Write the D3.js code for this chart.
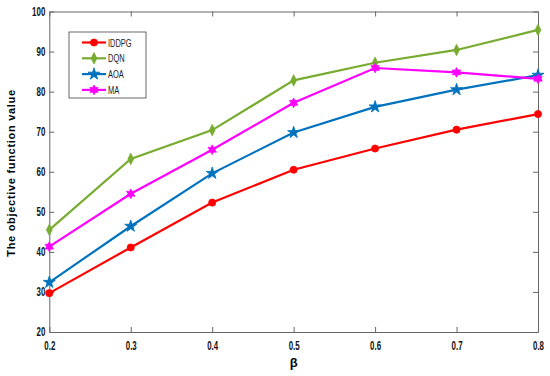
<!DOCTYPE html>
<html>
<head>
<meta charset="utf-8">
<script src="https://cdn.jsdelivr.net/npm/d3@7"></script>
<style>
  body { margin: 0; background: #fff; }
  text { font-family: "Liberation Sans", Arial, sans-serif; }
</style>
</head>
<body>
<script>
var svgWidth = 550;
var svgHeight = 376;

// values
var betas = [0.2, 0.3, 0.4, 0.5, 0.6, 0.7, 0.8];
var iddpg = [29.7, 41.1, 52.3, 60.5, 65.8, 70.5, 74.4];
var dqn = [45.5, 63.2, 70.4, 82.8, 87.2, 90.4, 95.4];
var aoa = [32.4, 46.4, 59.6, 69.8, 76.2, 80.5, 84.1];
var ma = [41.3, 54.5, 65.5, 77.2, 85.9, 84.8, 83.2];
var xTicks = [0.2, 0.3, 0.4, 0.5, 0.6, 0.7, 0.8];
var yTicks = [20, 30, 40, 50, 60, 70, 80, 90, 100];

var margin = { top: 11.5, right: 12, bottom: 44, left: 49.3 };
var width = svgWidth - margin.left - margin.right;
var height = svgHeight - margin.top - margin.bottom;

var svg = d3.select("body")
  .append("svg")
  .attr("width", svgWidth)
  .attr("height", svgHeight);

var chartGroup = svg.append("g")
  .attr("transform", `translate(${margin.left}, ${margin.top})`);

var xScale = d3.scaleLinear().domain([0.2, 0.8]).range([0, width]);
var yScale = d3.scaleLinear().domain([20, 100]).range([height, 0]);

// hexagram used for the MA marker
var hexagram = {
  draw: function(context, size) {
    var r = Math.sqrt(size) * 0.75, ri = r * 0.55;
    for (var i = 0; i < 12; i++) {
      var a = -Math.PI / 2 + i * Math.PI / 6;
      var rr = i % 2 === 0 ? r : ri;
      if (i === 0) context.moveTo(rr * Math.cos(a), rr * Math.sin(a));
      else context.lineTo(rr * Math.cos(a), rr * Math.sin(a));
    }
    context.closePath();
  }
};

// tall thin diamond like matlab's 'd' marker
var tallDiamond = {
  draw: function(context, size) {
    var h = Math.sqrt(size) * 0.85, w = h * 0.5;
    context.moveTo(0, -h);
    context.lineTo(w, 0);
    context.lineTo(0, h);
    context.lineTo(-w, 0);
    context.closePath();
  }
};

var series = [
  { name: "IDDPG", values: iddpg, color: "#ff0000", symbol: d3.symbolCircle, size: 40 },
  { name: "DQN", values: dqn, color: "#77ac30", symbol: tallDiamond, size: 45 },
  { name: "AOA", values: aoa, color: "#0072bd", symbol: d3.symbolStar, size: 45 },
  { name: "MA", values: ma, color: "#ff00ff", symbol: hexagram, size: 42 }
];

// axes (ticks inside, mirrored)
var bottomAxis = d3.axisBottom(xScale).tickValues(xTicks).tickSizeInner(-5).tickSizeOuter(0)
  .tickFormat(d3.format(".1f")).tickPadding(9);
var leftAxis = d3.axisLeft(yScale).tickValues(yTicks).tickSizeInner(-5).tickSizeOuter(0).tickPadding(0);

var xAxis = chartGroup.append("g")
  .attr("transform", `translate(0, ${height})`)
  .call(bottomAxis);
var yAxis = chartGroup.append("g").call(leftAxis);

chartGroup.append("g")
  .call(d3.axisTop(xScale).tickValues(xTicks).tickSizeInner(-5).tickSizeOuter(0).tickFormat(""));
chartGroup.append("g")
  .attr("transform", `translate(${width}, 0)`)
  .call(d3.axisRight(yScale).tickValues(yTicks).tickSizeInner(-5).tickSizeOuter(0).tickFormat(""));

chartGroup.selectAll(".domain").attr("stroke", "#666").attr("stroke-width", 1);
chartGroup.selectAll(".tick line").attr("stroke", "#666");
chartGroup.selectAll(".tick text")
  .attr("font-family", "'Liberation Sans', Arial, sans-serif")
  .attr("font-size", 12)
  .attr("font-weight", "bold")
  .attr("fill", "#111");

// squeeze tick labels so they look condensed
xAxis.selectAll(".tick text").attr("transform", "scale(0.66,1)");
yAxis.selectAll(".tick text").attr("x", 0).attr("transform", "translate(-4,0) scale(0.66,1)");

// lines and markers
var line = d3.line()
  .x((d, i) => xScale(betas[i]))
  .y(d => yScale(d));

series.forEach(function(s) {
  chartGroup.append("path")
    .datum(s.values)
    .attr("d", line)
    .attr("fill", "none")
    .attr("stroke", s.color)
    .attr("stroke-width", 2.2);

  chartGroup.selectAll(null)
    .data(s.values)
    .enter()
    .append("path")
    .attr("d", d3.symbol().type(s.symbol).size(s.size))
    .attr("transform", (d, i) => `translate(${xScale(betas[i])}, ${yScale(d)})`)
    .attr("fill", s.color)
    .attr("stroke", s.color)
    .attr("stroke-width", 0.8);
});

// legend
var legend = svg.append("g").attr("transform", "translate(69, 32)");
legend.append("rect")
  .attr("width", 77)
  .attr("height", 66)
  .attr("fill", "#fff")
  .attr("stroke", "#444")
  .attr("stroke-width", 0.8);

series.forEach(function(s, i) {
  var y = 10.5 + i * 15.8;
  legend.append("line")
    .attr("x1", 13).attr("x2", 37)
    .attr("y1", y).attr("y2", y)
    .attr("stroke", s.color)
    .attr("stroke-width", 2.2);
  legend.append("path")
    .attr("d", d3.symbol().type(s.symbol).size(s.size))
    .attr("transform", `translate(25, ${y})`)
    .attr("fill", s.color)
    .attr("stroke", s.color)
    .attr("stroke-width", 0.8);
  legend.append("text")
    .attr("transform", `translate(39, ${y + 4}) scale(0.68,1)`)
    .style("font-size", "11px")
    .attr("fill", "#222")
    .text(s.name);
});

// axis labels
svg.append("text")
  .attr("x", margin.left + width / 2)
  .attr("y", 367)
  .attr("text-anchor", "middle")
  .style("font-size", "13px")
  .style("font-weight", "bold")
  .text("β");

svg.append("text")
  .attr("transform", `translate(15, 173) rotate(-90)`)
  .attr("text-anchor", "middle")
  .style("font-size", "11px")
  .style("font-weight", "bold")
  .style("letter-spacing", "0.7px")
  .text("The objective function value");
</script>
</body>
</html>
